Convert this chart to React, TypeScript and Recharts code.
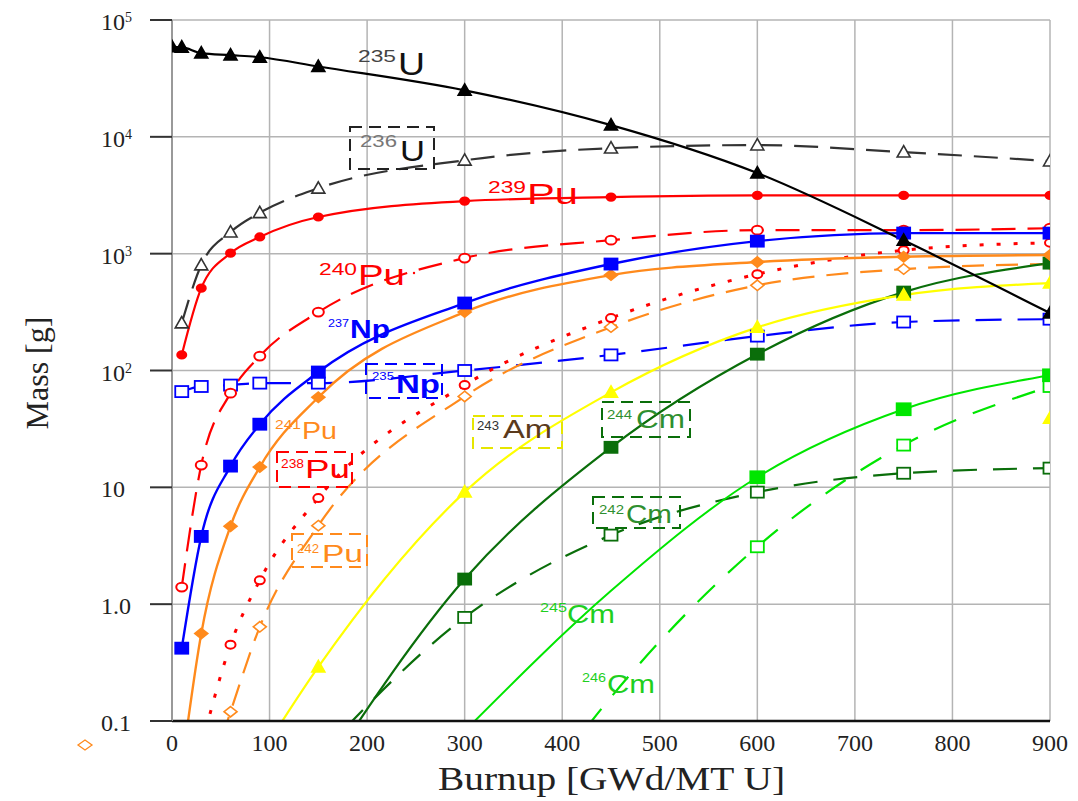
import React from 'react'
import { LineChart, Line, XAxis, YAxis, CartesianGrid } from 'recharts'

// burnup steps [GWd/MT U]
const burnup = [0, 10, 30, 60, 90, 150, 300, 450, 600, 750, 900]

// mass [g] per nuclide (null = no point)
const u235 = [59000, 58500, 52000, 50000, 48000, 40000, 25000, 12600, 4900, 1300, 310]
const u236 = [null, 255, 800, 1530, 2240, 3630, 6300, 8000, 8500, 7400, 6200]
const pu239 = [null, 136, 507, 1010, 1390, 2060, 2820, 3050, 3150, 3150, 3150]
const pu240 = [null, 1.4, 15.5, 64, 133, 316, 917, 1305, 1590, 1590, 1650]
const np237 = [null, 0.42, 3.8, 15.2, 34.7, 97, 378, 815, 1280, 1500, 1500]
const np235 = [null, 66, 73, 75, 78, 78, 100, 136, 197, 260, 275]
const pu241 = [null, 0.04, 0.56, 4.65, 14.9, 59, 316, 656, 848, 940, 973]
const pu238 = [null, null, 0.06, 0.45, 1.6, 8.1, 75, 281, 668, 1070, 1240]
const pu242 = [null, null, 0.02, 0.12, 0.64, 4.7, 60, 235, 536, 738, 815]
const am243 = [null, null, null, null, 0.05, 0.29, 9.1, 65, 234, 442, 560]
const am243b = [null, null, null, null, null, null, null, null, null, null, 39]
const cm244 = [null, null, null, null, null, 0.03, 1.64, 22, 138, 469, 830]
const cm242 = [null, null, null, null, null, 0.05, 0.77, 3.9, 9.1, 13.2, 14.6]
const cm245 = [null, null, null, null, null, null, 0.082, 1.3, 12.2, 46.6, 91]
const cm246 = [null, null, null, null, null, null, 0.003, 0.16, 3.1, 23, 73]

const xTicks = [0, 100, 200, 300, 400, 500, 600, 700, 800, 900]
const yTicks = [0.1, 1, 10, 100, 1000, 10000, 100000]
const yTickBase = ['0.1', '1.0', '10', '10', '10', '10', '10']
const yTickSup = ['', '', '', '2', '3', '4', '5']

const RED = '#ff0000'
const BLUE = '#0000ff'
const ORANGE = '#ff8a1c'
const YELLOW = '#ffff00'
const DKGREEN = '#0a6e0a'
const LTGREEN = '#00e600'

type Shape = 'tri' | 'sq' | 'dia' | 'circ'

const series: {
  key: string; values: (number | null)[]; color: string; dash?: string; width: number
  shape: Shape; filled: boolean; size: number; noLine?: boolean; hideDot?: number[]
}[] = [
  { key: 'u236', values: u236, color: '#333', dash: '24 12', width: 2.2, shape: 'tri', filled: false, size: 13 },
  { key: 'np235', values: np235, color: BLUE, dash: '26 16', width: 2.2, shape: 'sq', filled: false, size: 13 },
  { key: 'pu242', values: pu242, color: ORANGE, dash: '22 12', width: 2.2, shape: 'dia', filled: false, size: 13 },
  { key: 'pu238', values: pu238, color: RED, dash: '4 13', width: 3, shape: 'circ', filled: false, size: 10 },
  { key: 'pu240', values: pu240, color: RED, dash: '24 12', width: 2.2, shape: 'circ', filled: false, size: 11 },
  { key: 'cm242', values: cm242, color: DKGREEN, dash: '24 16', width: 2.2, shape: 'sq', filled: false, size: 13 },
  { key: 'cm246', values: cm246, color: LTGREEN, dash: '24 18', width: 2.2, shape: 'sq', filled: false, size: 13, hideDot: [7] },
  { key: 'cm245', values: cm245, color: LTGREEN, width: 2, shape: 'sq', filled: true, size: 14, hideDot: [7] },
  { key: 'cm244', values: cm244, color: DKGREEN, width: 2.2, shape: 'sq', filled: true, size: 13 },
  { key: 'am243', values: am243, color: YELLOW, width: 2.2, shape: 'tri', filled: true, size: 13 },
  { key: 'am243b', values: am243b, color: YELLOW, width: 2, shape: 'tri', filled: true, size: 13, noLine: true },
  { key: 'pu241', values: pu241, color: ORANGE, width: 2.4, shape: 'dia', filled: true, size: 13 },
  { key: 'np237', values: np237, color: BLUE, width: 2.4, shape: 'sq', filled: true, size: 13 },
  { key: 'pu239', values: pu239, color: RED, width: 2.2, shape: 'circ', filled: true, size: 9 },
  { key: 'u235', values: u235, color: '#000', width: 2.2, shape: 'tri', filled: true, size: 13 },
]

const rows = burnup.map((x, i) => {
  const r: Record<string, number | null> = { x }
  series.forEach(s => { r[s.key] = s.values[i] })
  return r
})

function marker(shape: Shape, cx: number, cy: number, color: string, filled: boolean, size: number) {
  const fill = filled ? color : '#fff'
  const h = size / 2
  switch (shape) {
    case 'tri':
      return <polygon points={`${cx},${cy - h} ${cx - h},${cy + h * 0.75} ${cx + h},${cy + h * 0.75}`} fill={fill} stroke={color} strokeWidth={1.6} />
    case 'sq':
      return <rect x={cx - h} y={cy - h * 0.85} width={size} height={size * 0.85} fill={fill} stroke={color} strokeWidth={1.8} />
    case 'dia':
      return <polygon points={`${cx},${cy - h * 0.8} ${cx + h},${cy} ${cx},${cy + h * 0.8} ${cx - h},${cy}`} fill={fill} stroke={color} strokeWidth={1.6} />
    default:
      return <ellipse cx={cx} cy={cy} rx={h} ry={h * 0.8} fill={fill} stroke={color} strokeWidth={2} />
  }
}

function makeDot(s: typeof series[number]) {
  return (p: any) => {
    const { cx, cy, index } = p
    if (cx == null || cy == null || s.values[index] == null || s.hideDot?.includes(index)) {
      return <g key={`${s.key}-${index}`} />
    }
    return <g key={`${s.key}-${index}`}>{marker(s.shape, cx, cy, s.color, s.filled, s.size)}</g>
  }
}

function YTick(props: any) {
  const { y, payload } = props
  const i = yTicks.indexOf(payload.value)
  return (
    <text x={93} y={y + 10} textAnchor="start" fontFamily="'Liberation Serif', serif" fontSize={24} fill="#222">
      <tspan>{yTickBase[i]}</tspan>
      {yTickSup[i] && <tspan dy={-8} fontSize={14}>{yTickSup[i]}</tspan>}
    </text>
  )
}

function XTick(props: any) {
  const { x, y, payload } = props
  return (
    <text x={x} y={y + 28} textAnchor="middle" fontFamily="'Liberation Serif', serif" fontSize={24} fill="#222">
      {payload.value}
    </text>
  )
}

// nuclide labels: [mass, element, supX, supBaseline, supWidth, elX, elBaseline, elWidth, supSize, elSize, color, supColor, bold]
type Lab = [string, string, number, number, number, number, number, number, number, number, string, string, boolean]
const labels: Lab[] = [
  ['235', 'U', 358, 62, 38, 398, 75, 27, 17, 31, '#111', '#444', false],
  ['236', 'U', 360, 147, 37, 400, 161, 25, 17, 30, '#111', '#777', false],
  ['239', 'Pu', 488, 193, 38, 527, 204, 51, 17, 29, RED, RED, false],
  ['240', 'Pu', 319, 275, 38, 358, 285, 47, 17, 29, RED, RED, false],
  ['237', 'Np', 328, 327, 21, 350, 338, 40, 11, 25, BLUE, BLUE, true],
  ['235', 'Np', 372, 380, 22, 396, 393, 44, 11, 26, BLUE, BLUE, true],
  ['241', 'Pu', 275, 429, 26, 302, 439, 35, 13, 23, ORANGE, ORANGE, false],
  ['238', 'Pu', 281, 468, 23, 305, 478, 45, 12, 26, RED, RED, false],
  ['242', 'Pu', 297, 553, 22, 322, 562, 41, 12, 24, ORANGE, ORANGE, false],
  ['243', 'Am', 477, 430, 22, 503, 438, 49, 12, 25, '#5b3a1c', '#333', false],
  ['244', 'Cm', 607, 419, 25, 636, 428, 49, 12, 26, '#2f8f2f', '#2f8f2f', false],
  ['242', 'Cm', 599, 514, 25, 626, 523, 46, 12, 26, '#2f8f2f', '#2f8f2f', false],
  ['245', 'Cm', 540, 612, 27, 567, 623, 48, 13, 25, '#1fcf1f', '#1fcf1f', false],
  ['246', 'Cm', 582, 682, 24, 607, 693, 48, 13, 25, '#1fcf1f', '#1fcf1f', false],
]

// dashed boxes around some labels: [x, y, w, h, color]
const boxes: [number, number, number, number, string][] = [
  [350, 127, 84, 42, '#222'],
  [366, 364, 76, 34, BLUE],
  [277, 452, 75, 35, RED],
  [292, 534, 75, 33, ORANGE],
  [473, 416, 89, 32, '#e6e600'],
  [602, 402, 88, 35, DKGREEN],
  [593, 497, 87, 31, DKGREEN],
]

function Overlay() {
  const sans = "'Liberation Sans', Arial, sans-serif"
  return (
    <svg width={1070} height={793} style={{ position: 'absolute', left: 0, top: 0, pointerEvents: 'none' }}>
      <g transform="translate(-8,-8)">
        {boxes.map(([x, y, w, h, c], i) => (
          <rect key={i} x={x} y={y} width={w} height={h} fill="none" stroke={c} strokeWidth={2} strokeDasharray="12 7" />
        ))}
        {labels.map(([m, el, sx, sy, sw, ex, ey, ew, ss, es, c, sc, b], i) => (
          <g key={i} fontFamily={sans}>
            <text x={sx} y={sy} fontSize={ss} fill={sc} textLength={sw} lengthAdjust="spacingAndGlyphs">{m}</text>
            <text x={ex} y={ey} fontSize={es} fill={c} fontWeight={b ? 'bold' : 'normal'}
              textLength={ew} lengthAdjust="spacingAndGlyphs">{el}</text>
          </g>
        ))}
        <circle cx={414} cy={273} r={1.2} fill={RED} />
        <polygon points="78,745 85,740 92,745 85,750" fill="#fff" stroke={ORANGE} strokeWidth={1.3} />
        <text x={438} y={790} fontFamily="'Liberation Serif', serif" fontSize={34} fill="#222"
          textLength={347} lengthAdjust="spacingAndGlyphs">
          Burnup [GWd/MT U]
        </text>
        <text x={0} y={0} transform="translate(48,373) rotate(-90)" textAnchor="middle"
          fontFamily="'Liberation Serif', serif" fontSize={32} fill="#222">
          Mass [g]
        </text>
      </g>
    </svg>
  )
}

export default function App() {
  return (
    <div style={{ position: 'relative', width: 1070, height: 793, background: '#fff' }}>
      <LineChart width={1070} height={790} data={rows} margin={{ top: 12, right: 28, left: 0, bottom: 0 }}>
        <CartesianGrid stroke="#b4b4b4" strokeWidth={1.5} />
        <XAxis
          dataKey="x"
          type="number"
          domain={[0, 900]}
          ticks={xTicks}
          allowDataOverflow
          height={77}
          tickLine={false}
          tickSize={0}
          axisLine={{ stroke: '#111', strokeWidth: 2.5 }}
          tick={<XTick />}
        />
        <YAxis
          type="number"
          scale="log"
          domain={[0.1, 100000]}
          ticks={yTicks}
          allowDataOverflow
          width={164}
          tickSize={22}
          tickLine={{ stroke: '#333', strokeWidth: 2 }}
          axisLine={{ stroke: '#999', strokeWidth: 2 }}
          tick={<YTick />}
        />
        {series.map(s => (
          <Line
            key={s.key}
            dataKey={s.key}
            type="monotone"
            stroke={s.noLine ? 'none' : s.color}
            strokeWidth={s.width}
            strokeDasharray={s.dash}
            dot={makeDot(s)}
            activeDot={false}
            connectNulls={false}
            isAnimationActive={false}
            legendType="none"
          />
        ))}
      </LineChart>
      <Overlay />
    </div>
  )
}
